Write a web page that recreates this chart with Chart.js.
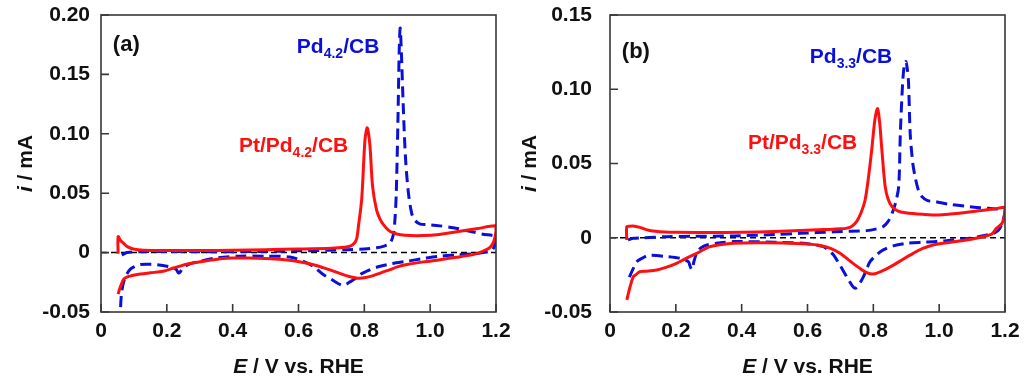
<!DOCTYPE html>
<html>
<head>
<meta charset="utf-8">
<script src="https://cdn.jsdelivr.net/npm/chart.js@4.4.1/dist/chart.umd.min.js"></script>
<style>
  body { margin: 0; background: #fff; }
  .panel { position: absolute; top: 0; width: 512px; height: 389px; }
</style>
</head>
<body>
<div class="panel" style="left:0"><canvas id="chartA" width="512" height="389"></canvas></div>
<div class="panel" style="left:512px"><canvas id="chartB" width="512" height="389"></canvas></div>
<script>
'use strict';

/* Cyclic voltammograms: (a) Pt/Pd4.2/CB vs Pd4.2/CB, (b) Pt/Pd3.3/CB vs Pd3.3/CB.
   Each curve is one loop: anodic sweep 0.05 -> 1.2 V, then cathodic sweep back. */

// ---- panel (a) ----
const ptA_E = [0.052, 0.052, 0.060, 0.068, 0.080, 0.098, 0.130, 0.200, 0.300, 0.400, 0.500, 0.600, 0.700, 0.740, 0.757, 0.770, 0.777, 0.782, 0.792, 0.802, 0.809, 0.817, 0.825, 0.837, 0.848, 0.858, 0.873, 0.888, 0.910, 0.940, 0.980, 1.020, 1.080, 1.140, 1.200,
  1.200, 1.196, 1.190, 1.180, 1.170, 1.150, 1.130, 1.080, 1.030, 0.980, 0.930, 0.900, 0.878, 0.850, 0.827, 0.800, 0.780, 0.760, 0.736, 0.700, 0.675, 0.640, 0.594, 0.550, 0.500, 0.450, 0.400, 0.370, 0.330, 0.270, 0.220, 0.189, 0.150, 0.120, 0.098, 0.080, 0.068, 0.060, 0.055, 0.052];
const ptA_i = [-0.001, 0.0135, 0.010, 0.008, 0.005, 0.003, 0.002, 0.0017, 0.0017, 0.002, 0.0025, 0.003, 0.0037, 0.0045, 0.0055, 0.008, 0.012, 0.022, 0.045, 0.095, 0.105, 0.090, 0.056, 0.036, 0.028, 0.0236, 0.019, 0.0166, 0.015, 0.0143, 0.0143, 0.015, 0.0175, 0.020, 0.0225,
  0.018, 0.012, 0.0075, 0.004, 0.0025, 0.000, -0.0017, -0.004, -0.006, -0.0078, -0.010, -0.012, -0.0143, -0.017, -0.0194, -0.0212, -0.0215, -0.0205, -0.0185, -0.015, -0.0127, -0.0098, -0.0073, -0.0058, -0.005, -0.0046, -0.0046, -0.005, -0.0065, -0.0092, -0.013, -0.0157, -0.017, -0.018, -0.019, -0.0205, -0.0227, -0.028, -0.032, -0.035];

const pdA_E = [0.063, 0.070, 0.080, 0.120, 0.200, 0.300, 0.400, 0.500, 0.600, 0.700, 0.750, 0.800, 0.837, 0.860, 0.878, 0.888, 0.893, 0.897, 0.902, 0.906, 0.909, 0.913, 0.918, 0.925, 0.934, 0.944, 0.954, 0.970, 0.990, 1.030, 1.070, 1.120, 1.160, 1.200,
  1.200, 1.193, 1.185, 1.160, 1.130, 1.080, 1.030, 0.980, 0.929, 0.880, 0.848, 0.825, 0.807, 0.790, 0.777, 0.760, 0.746, 0.735, 0.720, 0.700, 0.675, 0.645, 0.615, 0.574, 0.500, 0.420, 0.380, 0.350, 0.300, 0.270, 0.250, 0.240, 0.235, 0.228, 0.210, 0.170, 0.140, 0.118, 0.100, 0.088, 0.075, 0.068, 0.062, 0.058];
const pdA_i = [-0.002, -0.001, 0.000, 0.0008, 0.001, 0.0008, 0.0008, 0.001, 0.0015, 0.002, 0.0025, 0.003, 0.004, 0.0055, 0.008, 0.015, 0.028, 0.050, 0.110, 0.170, 0.189, 0.165, 0.125, 0.080, 0.050, 0.033, 0.027, 0.024, 0.0236, 0.0225, 0.021, 0.018, 0.0155, 0.0135,
  0.009, 0.004, 0.0015, 0.000, -0.001, -0.002, -0.003, -0.005, -0.0073, -0.0095, -0.0115, -0.0135, -0.0157, -0.018, -0.021, -0.024, -0.0265, -0.0275, -0.026, -0.0225, -0.0185, -0.0115, -0.0073, -0.0037, -0.003, -0.003, -0.0038, -0.0045, -0.0073, -0.0095, -0.0125, -0.0165, -0.017, -0.014, -0.012, -0.0101, -0.0098, -0.0101, -0.012, -0.0143, -0.020, -0.0255, -0.035, -0.055];

// ---- panel (b) ----
const ptB_E = [0.051, 0.051, 0.060, 0.075, 0.091, 0.110, 0.130, 0.152, 0.200, 0.300, 0.400, 0.500, 0.577, 0.650, 0.700, 0.720, 0.735, 0.749, 0.762, 0.775, 0.786, 0.795, 0.805, 0.813, 0.819, 0.826, 0.836, 0.845, 0.857, 0.875, 0.897, 0.950, 0.999, 1.060, 1.120, 1.170, 1.198,
  1.200, 1.197, 1.191, 1.174, 1.160, 1.134, 1.083, 1.030, 0.982, 0.950, 0.921, 0.890, 0.861, 0.830, 0.800, 0.780, 0.759, 0.730, 0.699, 0.670, 0.638, 0.600, 0.526, 0.450, 0.375, 0.340, 0.304, 0.263, 0.230, 0.202, 0.170, 0.142, 0.110, 0.091, 0.078, 0.071, 0.061, 0.051];
const ptB_i = [-0.0015, 0.0075, 0.0078, 0.0078, 0.007, 0.0055, 0.0045, 0.0041, 0.0037, 0.0036, 0.0037, 0.0042, 0.0048, 0.0055, 0.006, 0.0065, 0.0078, 0.0108, 0.0165, 0.0254, 0.042, 0.059, 0.080, 0.087, 0.078, 0.059, 0.0344, 0.026, 0.0209, 0.018, 0.0169, 0.0158, 0.0153, 0.0165, 0.0182, 0.0195, 0.0205,
  0.019, 0.014, 0.0097, 0.0063, 0.0025, 0.0007, -0.0015, -0.0032, -0.0049, -0.0072, -0.0105, -0.0145, -0.0184, -0.022, -0.0244, -0.0235, -0.0206, -0.0158, -0.0105, -0.0072, -0.0052, -0.0042, -0.0035, -0.0034, -0.0037, -0.0045, -0.006, -0.0105, -0.014, -0.0172, -0.020, -0.0217, -0.0225, -0.0228, -0.025, -0.0262, -0.033, -0.0419];

const pdB_E = [0.055, 0.071, 0.100, 0.172, 0.250, 0.375, 0.500, 0.577, 0.680, 0.780, 0.810, 0.830, 0.845, 0.857, 0.868, 0.877, 0.882, 0.889, 0.894, 0.899, 0.903, 0.907, 0.912, 0.920, 0.927, 0.937, 0.948, 0.965, 0.988, 1.030, 1.094, 1.150, 1.198,
  1.200, 1.190, 1.180, 1.165, 1.130, 1.094, 1.040, 0.993, 0.950, 0.901, 0.860, 0.830, 0.810, 0.790, 0.780, 0.770, 0.755, 0.745, 0.735, 0.719, 0.700, 0.679, 0.665, 0.648, 0.600, 0.500, 0.375, 0.330, 0.294, 0.275, 0.263, 0.255, 0.249, 0.243, 0.238, 0.213, 0.172, 0.118, 0.100, 0.081, 0.070, 0.062, 0.058];
const pdB_i = [-0.0015, -0.0004, 0.000, 0.0007, 0.001, 0.0012, 0.0022, 0.003, 0.004, 0.0048, 0.006, 0.0075, 0.011, 0.0164, 0.024, 0.0344, 0.070, 0.104, 0.116, 0.1186, 0.114, 0.104, 0.070, 0.050, 0.041, 0.032, 0.0276, 0.025, 0.0243, 0.0225, 0.0209, 0.0198, 0.0187,
  0.017, 0.009, 0.005, 0.003, 0.0012, -0.0004, -0.0015, -0.0026, -0.003, -0.0037, -0.0055, -0.0082, -0.0115, -0.0161, -0.021, -0.0262, -0.032, -0.034, -0.032, -0.0262, -0.019, -0.0116, -0.0085, -0.006, -0.004, -0.003, -0.0026, -0.0035, -0.0049, -0.007, -0.0105, -0.016, -0.0215, -0.019, -0.0161, -0.0139, -0.0127, -0.0118, -0.0135, -0.0161, -0.021, -0.025, -0.027];

// zero-current reference line
const zeroE = [0, 1.2];
const zeroI = [0, 0];

// axes
const xTicks = [0, 0.2, 0.4, 0.6, 0.8, 1.0, 1.2];
const xLabels = ['0', '0.2', '0.4', '0.6', '0.8', '1.0', '1.2'];
const yTicksA = [-0.05, 0, 0.05, 0.10, 0.15, 0.20];
const yLabelsA = ['-0.05', '0', '0.05', '0.10', '0.15', '0.20'];
const yTicksB = [-0.05, 0, 0.05, 0.10, 0.15];
const yLabelsB = ['-0.05', '0', '0.05', '0.10', '0.15'];

// annotation texts: even items normal, odd items subscript
const notePdA = ['Pd', '4.2', '/CB'];
const notePtA = ['Pt/Pd', '4.2', '/CB'];
const notePdB = ['Pd', '3.3', '/CB'];
const notePtB = ['Pt/Pd', '3.3', '/CB'];

const RED = '#ff1010';
const BLUE = '#0a10d8';
const INK = '#111';
const FONT = '"Liberation Sans", Arial, sans-serif';

function pts(xs, ys) {
  return xs.map((x, k) => ({ x, y: ys[k] }));
}

function drawRich(ctx, parts, x, y, color, size) {
  ctx.fillStyle = color;
  ctx.textAlign = 'left';
  ctx.textBaseline = 'middle';
  parts.forEach((t, k) => {
    const sub = k % 2 === 1;
    ctx.font = `bold ${sub ? 14 : size}px ${FONT}`;
    ctx.fillText(t, x, sub ? y + 7 : y);
    x += ctx.measureText(t).width;
  });
}

// text runs with optional italic, centred on (cx, cy)
function drawTitle(ctx, runs, cx, cy, rotate) {
  ctx.save();
  ctx.translate(cx, cy);
  if (rotate) ctx.rotate(-Math.PI / 2);
  ctx.fillStyle = INK;
  ctx.textBaseline = 'middle';
  ctx.textAlign = 'left';
  const fontOf = r => `${r.it ? 'italic ' : ''}bold 21px ${FONT}`;
  let w = 0;
  runs.forEach(r => { ctx.font = fontOf(r); w += ctx.measureText(r.t).width; });
  let x = -w / 2;
  runs.forEach(r => { ctx.font = fontOf(r); ctx.fillText(r.t, x, 0); x += ctx.measureText(r.t).width; });
  ctx.restore();
}

// Frame, inward ticks, tick labels, titles and notes. Tick labels are drawn here
// (not by Chart.js) so their padding does not push the chart area around.
const panelDeco = {
  id: 'panelDeco',
  afterDraw(chart, args, opts) {
    const { ctx, chartArea: a, scales: { x, y } } = chart;
    ctx.save();
    ctx.strokeStyle = '#383838';
    ctx.lineWidth = 1.6;
    ctx.strokeRect(a.left, a.top, a.right - a.left, a.bottom - a.top);

    ctx.beginPath();
    xTicks.forEach(v => {
      const px = x.getPixelForValue(v);
      ctx.moveTo(px, a.bottom); ctx.lineTo(px, a.bottom - 8);
    });
    opts.yTicks.forEach(v => {
      const py = y.getPixelForValue(v);
      ctx.moveTo(a.left, py); ctx.lineTo(a.left + 8, py);
    });
    ctx.stroke();

    ctx.fillStyle = INK;
    ctx.font = `bold 21px ${FONT}`;
    ctx.textBaseline = 'middle';
    ctx.textAlign = 'center';
    xTicks.forEach((v, k) => ctx.fillText(xLabels[k], x.getPixelForValue(v), a.bottom + 19));
    ctx.textAlign = 'right';
    opts.yTicks.forEach((v, k) => ctx.fillText(opts.yLabels[k], a.left - opts.yGap, y.getPixelForValue(v)));

    drawTitle(ctx, [{ t: 'E', it: true }, { t: ' / V vs. RHE' }], (a.left + a.right) / 2, 367, false);
    drawTitle(ctx, [{ t: 'i', it: true }, { t: ' / mA' }], opts.yTitleX, (a.top + a.bottom) / 2, true);

    ctx.fillStyle = INK;
    ctx.font = `bold 22px ${FONT}`;
    ctx.textAlign = 'left';
    ctx.textBaseline = 'middle';
    ctx.fillText(opts.tag, x.getPixelForValue(opts.tagAt[0]), y.getPixelForValue(opts.tagAt[1]));

    opts.notes.forEach(n => {
      drawRich(ctx, n.parts, x.getPixelForValue(n.at[0]), y.getPixelForValue(n.at[1]), n.color, 21);
    });
    ctx.restore();
  }
};

function makeChart(id, cfg) {
  return new Chart(document.getElementById(id), {
    type: 'scatter',
    data: {
      datasets: [
        { data: pts(cfg.ptE, cfg.ptI), borderColor: RED, borderWidth: 3, order: 1 },
        { data: pts(cfg.pdE, cfg.pdI), borderColor: BLUE, borderWidth: 3, borderDash: [11, 6], order: 2 },
        { data: pts(zeroE, zeroI), borderColor: '#000', borderWidth: 1.5, borderDash: [6, 4], tension: 0, order: 3 }
      ]
    },
    options: {
      responsive: false,
      animation: false,
      showLine: true,
      elements: { point: { radius: 0 }, line: { tension: 0.3, fill: false } },
      layout: { padding: { left: 0, top: 15, right: cfg.padRight, bottom: 0 } },
      plugins: {
        legend: { display: false },
        tooltip: { enabled: false },
        panelDeco: {
          yTicks: cfg.yTicks, yLabels: cfg.yLabels, yGap: cfg.yGap, yTitleX: cfg.yTitleX,
          tag: cfg.tag, tagAt: cfg.tagAt, notes: cfg.notes
        }
      },
      scales: {
        x: {
          type: 'linear', min: 0, max: 1.2,
          afterFit: s => { s.height = 77; },
          ticks: { display: false },
          grid: { display: false, drawTicks: false },
          border: { display: false }
        },
        y: {
          type: 'linear', min: cfg.yMin, max: cfg.yMax,
          afterFit: s => { s.width = cfg.axisLeft; },
          ticks: { display: false },
          grid: { display: false, drawTicks: false },
          border: { display: false }
        }
      }
    },
    plugins: [panelDeco]
  });
}

makeChart('chartA', {
  ptE: ptA_E, ptI: ptA_i, pdE: pdA_E, pdI: pdA_i,
  yMin: -0.05, yMax: 0.20, yTicks: yTicksA, yLabels: yLabelsA,
  axisLeft: 101, padRight: 16, yGap: 11, yTitleX: 26,
  tag: '(a)', tagAt: [0.036, 0.175],
  notes: [
    { parts: notePdA, at: [0.595, 0.1726], color: BLUE },
    { parts: notePtA, at: [0.419, 0.0892], color: RED }
  ]
});

makeChart('chartB', {
  ptE: ptB_E, ptI: ptB_i, pdE: pdB_E, pdI: pdB_i,
  yMin: -0.05, yMax: 0.15, yTicks: yTicksB, yLabels: yLabelsB,
  axisLeft: 98, padRight: 19, yGap: 18, yTitleX: 18,
  tag: '(b)', tagAt: [0.036, 0.125],
  notes: [
    { parts: notePdB, at: [0.607, 0.1217], color: BLUE },
    { parts: notePtB, at: [0.419, 0.0638], color: RED }
  ]
});
</script>
</body>
</html>
